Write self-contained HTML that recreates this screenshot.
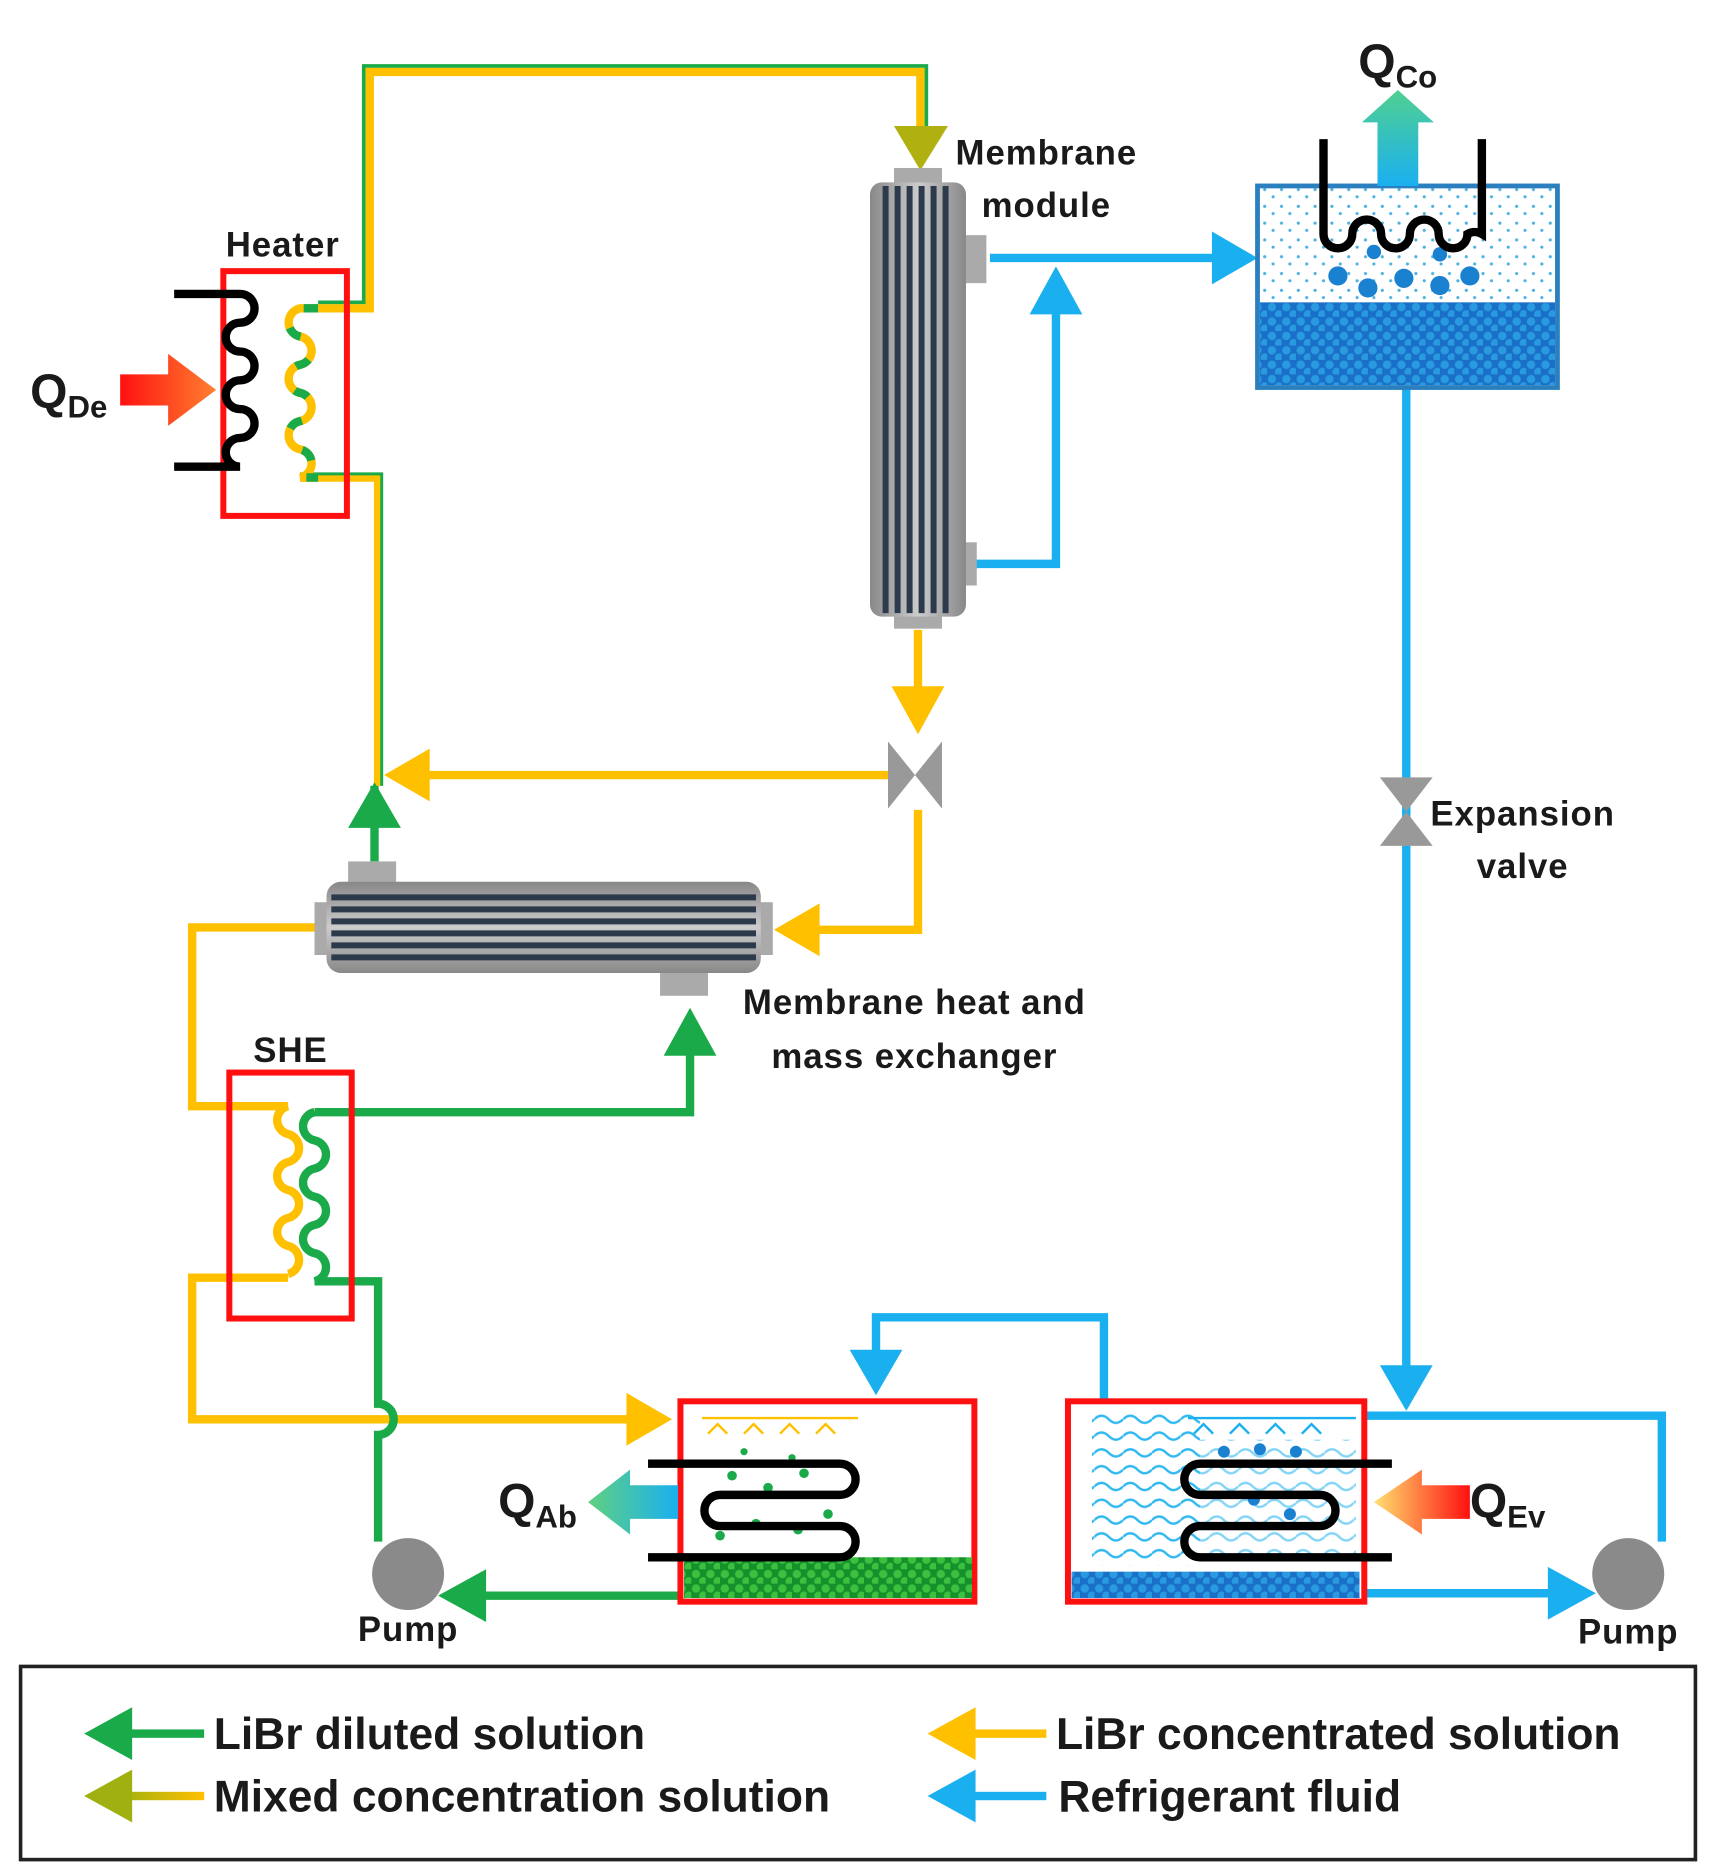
<!DOCTYPE html>
<html><head><meta charset="utf-8"><style>
html,body{margin:0;padding:0;background:#fff}
svg{display:block}
text{font-family:"Liberation Sans","DejaVu Sans",sans-serif;font-weight:bold;fill:#1a1a1a}
.lb{font-size:29px;letter-spacing:0.8px}
.lg{font-size:37px;letter-spacing:0}
</style></head><body>
<svg width="1716" height="1874" viewBox="0 0 1430 1562" xmlns="http://www.w3.org/2000/svg">
<defs>
<linearGradient id="red" x1="0" x2="1"><stop offset="0" stop-color="#ff1010"/><stop offset="1" stop-color="#ff8030"/></linearGradient>
<linearGradient id="co" x1="0" y1="1" x2="0" y2="0"><stop offset="0" stop-color="#1ab0f0"/><stop offset="1" stop-color="#50d090"/></linearGradient>
<linearGradient id="ab" x1="1" x2="0"><stop offset="0" stop-color="#1ab0f0"/><stop offset="1" stop-color="#60d080"/></linearGradient>
<linearGradient id="ev" x1="1" x2="0"><stop offset="0" stop-color="#ff1010"/><stop offset="1" stop-color="#ffe070"/></linearGradient>
<linearGradient id="mix" x1="0" x2="1"><stop offset="0" stop-color="#a0b010"/><stop offset="1" stop-color="#ffc000"/></linearGradient>
<linearGradient id="gray" x1="0" x2="1"><stop offset="0" stop-color="#888"/><stop offset=".5" stop-color="#ccc"/><stop offset="1" stop-color="#888"/></linearGradient>
<linearGradient id="grayv" x1="0" y1="0" x2="0" y2="1"><stop offset="0" stop-color="#888"/><stop offset=".5" stop-color="#ccc"/><stop offset="1" stop-color="#888"/></linearGradient>
<pattern id="dots" width="14" height="14" patternUnits="userSpaceOnUse"><circle cx="4" cy="4" r="1.3" fill="#4ab0e0"/><circle cx="11" cy="10" r="1.3" fill="#4ab0e0"/></pattern>
<pattern id="bub" width="12" height="12" patternUnits="userSpaceOnUse"><rect width="12" height="12" fill="#1a70c8"/><circle cx="4" cy="4" r="3.5" fill="#2a9ae0"/><circle cx="10" cy="10" r="3.5" fill="#2a9ae0"/></pattern>
<pattern id="gbub" width="12" height="12" patternUnits="userSpaceOnUse"><rect width="12" height="12" fill="#15902a"/><circle cx="4" cy="4" r="3.5" fill="#3cc040"/><circle cx="10" cy="10" r="3.5" fill="#3cc040"/></pattern>
<pattern id="wave" width="24" height="14" patternUnits="userSpaceOnUse"><path d="M0,7 q6,-6 12,0 t12,0" fill="none" stroke="#30b8f0" stroke-width="2"/></pattern>
</defs>

<g fill="none" stroke-linejoin="miter">
<polyline points="265,257 308,257 308,60 767,60 767,110" stroke="#ffc000" stroke-width="7"/>
<polyline points="265,252 303,252 303,55 772,55 772,110" stroke="#1aaa4a" stroke-width="3"/>
<polyline points="250,398 315,398 315,655" stroke="#ffc000" stroke-width="7"/>
<polyline points="250,395 318,395 318,655" stroke="#1aaa4a" stroke-width="2.5"/>
<polyline points="765,525 765,585" stroke="#ffc000" stroke-width="7"/>
<line x1="740" y1="646" x2="350" y2="646" stroke="#ffc000" stroke-width="7"/>
<polyline points="765,675 765,775 680,775" stroke="#ffc000" stroke-width="7"/>
<polyline points="265,773 160,773 160,922 240,922" stroke="#ffc000" stroke-width="7"/>
<polyline points="240,1065 160,1065 160,1183 525,1183" stroke="#ffc000" stroke-width="7"/>
<polyline points="262,927 575,927 575,870" stroke="#1aaa4a" stroke-width="7"/>
<path d="M262,1068 H315 V1170 a12,12 0 0 1 0,26 V1285" stroke="#1aaa4a" stroke-width="7"/>
<line x1="312" y1="655" x2="312" y2="718" stroke="#1aaa4a" stroke-width="7"/>
<line x1="565" y1="1330" x2="400" y2="1330" stroke="#1aaa4a" stroke-width="7"/>
<line x1="825" y1="215" x2="1015" y2="215" stroke="#1ab0f0" stroke-width="7"/>
<polyline points="805,470 880,470 880,255" stroke="#1ab0f0" stroke-width="7"/>
<line x1="1172" y1="323" x2="1172" y2="1145" stroke="#1ab0f0" stroke-width="7"/>
<polyline points="920,1168 920,1098 730,1098 730,1130" stroke="#1ab0f0" stroke-width="7"/>
<polyline points="990,1180 1385,1180 1385,1285" stroke="#1ab0f0" stroke-width="7"/>
<line x1="1137" y1="1328" x2="1295" y2="1328" stroke="#1ab0f0" stroke-width="7"/>
</g>

<polygon points="745,105 790,105 767,142" fill="#b0b010"/>
<polygon points="743,572 787,572 765,612" fill="#ffc000"/>
<polygon points="320,646 358,624 358,668" fill="#ffc000"/>
<polygon points="645,775 683,753 683,797" fill="#ffc000"/>
<polygon points="560,1183 522,1161 522,1205" fill="#ffc000"/>
<polygon points="290,690 334,690 312,652" fill="#1aaa4a"/>
<polygon points="553,880 597,880 575,840" fill="#1aaa4a"/>
<polygon points="365,1330 405,1308 405,1352" fill="#1aaa4a"/>
<polygon points="1048,215 1010,193 1010,237" fill="#1ab0f0"/>
<polygon points="858,262 902,262 880,222" fill="#1ab0f0"/>
<polygon points="1150,1138 1194,1138 1172,1176" fill="#1ab0f0"/>
<polygon points="708,1125 752,1125 730,1163" fill="#1ab0f0"/>
<polygon points="1330,1328 1290,1306 1290,1350" fill="#1ab0f0"/>

<polygon points="740,618 740,674 785,618 785,674" fill="#999"/>
<polygon points="1150,648 1194,648 1150,705 1194,705" fill="#999"/>

<rect x="186" y="226" width="103" height="204" fill="none" stroke="#ff1010" stroke-width="5"/>
<path d="M145,245 H200 a12,12 0 0 1 0,24 a12,12 0 0 0 0,24 a12,12 0 0 1 0,24 a12,12 0 0 0 0,24 a12,12 0 0 1 0,24 a12,12 0 0 0 0,24 H145" fill="none" stroke="#000" stroke-width="7"/>
<path d="M265,257 H250 a12,12 0 0 0 0,23.5 a12,12 0 0 1 0,23.5 a12,12 0 0 0 0,23.5 a12,12 0 0 1 0,23.5 a12,12 0 0 0 0,23.5 a12,12 0 0 1 0,23.5 H265" fill="none" stroke="#ffc000" stroke-width="7"/>
<path d="M265,257 H250 a12,12 0 0 0 0,23.5 a12,12 0 0 1 0,23.5 a12,12 0 0 0 0,23.5 a12,12 0 0 1 0,23.5 a12,12 0 0 0 0,23.5 a12,12 0 0 1 0,23.5 H265" fill="none" stroke="#1aaa4a" stroke-width="7" stroke-dasharray="12 24"/>
<polygon points="100,312 140,312 140,295 180,325 140,355 140,338 100,338" fill="url(#red)"/>
<text x="25" y="340" font-size="40">Q<tspan font-size="26" dy="8">De</tspan></text>
<text x="188" y="214" class="lb">Heater</text>

<rect x="745" y="140" width="40" height="16" fill="#aaa"/>
<rect x="745" y="508" width="40" height="16" fill="#aaa"/>
<rect x="800" y="196" width="22" height="40" fill="#aaa"/>
<rect x="800" y="452" width="14" height="36" fill="#aaa"/>
<rect x="725" y="152" width="80" height="362" rx="10" fill="url(#gray)"/>
<g stroke="#2c3a4c" stroke-width="5">
<line x1="738" y1="155" x2="738" y2="511"/><line x1="748" y1="155" x2="748" y2="511"/><line x1="758" y1="155" x2="758" y2="511"/><line x1="768" y1="155" x2="768" y2="511"/><line x1="778" y1="155" x2="778" y2="511"/><line x1="788" y1="155" x2="788" y2="511"/>
</g>
<text x="872" y="137" class="lb" text-anchor="middle">Membrane</text>
<text x="872" y="181" class="lb" text-anchor="middle">module</text>

<rect x="290" y="718" width="40" height="20" fill="#aaa"/>
<rect x="550" y="808" width="40" height="22" fill="#aaa"/>
<rect x="262" y="752" width="16" height="44" fill="#aaa"/>
<rect x="628" y="752" width="16" height="44" fill="#aaa"/>
<rect x="272" y="735" width="362" height="76" rx="12" fill="url(#grayv)"/>
<g stroke="#2c3a4c" stroke-width="5">
<line x1="276" y1="748" x2="630" y2="748"/><line x1="276" y1="758" x2="630" y2="758"/><line x1="276" y1="768" x2="630" y2="768"/><line x1="276" y1="778" x2="630" y2="778"/><line x1="276" y1="788" x2="630" y2="788"/><line x1="276" y1="798" x2="630" y2="798"/>
</g>
<text x="762" y="845" class="lb" text-anchor="middle">Membrane heat and</text>
<text x="762" y="890" class="lb" text-anchor="middle">mass exchanger</text>

<rect x="1048" y="155" width="250" height="168" fill="url(#dots)" stroke="#2a7fbf" stroke-width="4"/>
<rect x="1050" y="252" width="246" height="69" fill="url(#bub)"/>
<g fill="#1a80d0"><circle cx="1115" cy="230" r="8"/><circle cx="1140" cy="240" r="8"/><circle cx="1170" cy="232" r="8"/><circle cx="1200" cy="238" r="8"/><circle cx="1225" cy="230" r="8"/><circle cx="1145" cy="210" r="6"/><circle cx="1200" cy="212" r="6"/></g>
<polygon points="1148,155 1148,102 1135,102 1165,75 1195,102 1182,102 1182,155" fill="url(#co)"/>
<path d="M1103,116 V195 a12,12 0 0 0 24,0 a12,12 0 0 1 24,0 a12,12 0 0 0 24,0 a12,12 0 0 1 24,0 a12,12 0 0 0 24,0 a12,12 0 0 1 12,0 V116" fill="none" stroke="#000" stroke-width="7"/>
<text x="1132" y="65" font-size="40">Q<tspan font-size="26" dy="8">Co</tspan></text>
<text x="1269" y="688" class="lb" text-anchor="middle">Expansion</text>
<text x="1269" y="732" class="lb" text-anchor="middle">valve</text>

<rect x="191" y="894" width="102" height="205" fill="none" stroke="#ff1010" stroke-width="5"/>
<path d="M240,922 a12,12 0 0 0 0,23.3 a12,12 0 0 1 0,23.3 a12,12 0 0 0 0,23.3 a12,12 0 0 1 0,23.3 a12,12 0 0 0 0,23.3 a12,12 0 0 1 0,23.3" fill="none" stroke="#ffc000" stroke-width="7"/>
<path d="M262,927 a12,12 0 0 0 0,23.5 a12,12 0 0 1 0,23.5 a12,12 0 0 0 0,23.5 a12,12 0 0 1 0,23.5 a12,12 0 0 0 0,23.5 a12,12 0 0 1 0,23.5" fill="none" stroke="#1aaa4a" stroke-width="7"/>
<text x="242" y="885" class="lb" text-anchor="middle">SHE</text>

<rect x="567" y="1168" width="245" height="167" fill="#fff" stroke="#ff1010" stroke-width="5"/>
<rect x="570" y="1298" width="240" height="34" fill="url(#gbub)"/>
<g stroke="#ffc000" stroke-width="2" fill="none"><line x1="585" y1="1182" x2="715" y2="1182"/><path d="M590,1195 l8,-8 l8,8 M620,1195 l8,-8 l8,8 M650,1195 l8,-8 l8,8 M680,1195 l8,-8 l8,8"/></g>
<g fill="#1aaa4a"><circle cx="610" cy="1230" r="4"/><circle cx="640" cy="1240" r="4"/><circle cx="670" cy="1228" r="4"/><circle cx="600" cy="1280" r="4"/><circle cx="630" cy="1270" r="4"/><circle cx="665" cy="1275" r="4"/><circle cx="690" cy="1262" r="4"/><circle cx="620" cy="1210" r="3"/><circle cx="660" cy="1215" r="3"/></g>
<path d="M540,1220 H700 a13,13 0 0 1 0,26 H600 a13,13 0 0 0 0,26 H700 a13,13 0 0 1 0,26 H540" fill="none" stroke="#000" stroke-width="7"/>
<polygon points="565,1238 525,1238 525,1225 490,1252 525,1279 525,1266 565,1266" fill="url(#ab)"/>
<text x="415" y="1265" font-size="40">Q<tspan font-size="26" dy="8">Ab</tspan></text>

<rect x="890" y="1168" width="247" height="167" fill="#fff" stroke="#ff1010" stroke-width="5"/>
<rect x="910" y="1175" width="90" height="130" fill="url(#wave)"/>
<rect x="1000" y="1200" width="130" height="95" fill="url(#wave)" opacity=".6"/>
<rect x="893" y="1310" width="240" height="22" fill="url(#bub)"/>
<g stroke="#1ab0f0" stroke-width="2" fill="none"><line x1="990" y1="1182" x2="1130" y2="1182"/><path d="M995,1195 l8,-8 l8,8 M1025,1195 l8,-8 l8,8 M1055,1195 l8,-8 l8,8 M1085,1195 l8,-8 l8,8"/></g>
<g fill="#1a80d0"><circle cx="1020" cy="1210" r="5"/><circle cx="1050" cy="1208" r="5"/><circle cx="1080" cy="1210" r="5"/><circle cx="1045" cy="1250" r="5"/><circle cx="1075" cy="1262" r="5"/></g>
<path d="M1160,1220 H1000 a13,13 0 0 0 0,26 H1100 a13,13 0 0 1 0,26 H1000 a13,13 0 0 0 0,26 H1160" fill="none" stroke="#000" stroke-width="7"/>
<polygon points="1225,1238 1185,1238 1185,1225 1145,1252 1185,1279 1185,1266 1225,1266" fill="url(#ev)"/>
<text x="1225" y="1265" font-size="40">Q<tspan font-size="26" dy="8">Ev</tspan></text>

<circle cx="340" cy="1312" r="30" fill="#8a8a8a"/>
<circle cx="1357" cy="1312" r="30" fill="#8a8a8a"/>
<text x="340" y="1368" class="lb" text-anchor="middle">Pump</text>
<text x="1357" y="1370" class="lb" text-anchor="middle">Pump</text>

<rect x="17" y="1389" width="1396" height="161" fill="none" stroke="#222" stroke-width="3"/>
<rect x="100" y="1441.5" width="70" height="7" fill="#1aaa4a"/>
<polygon points="70,1445 110,1423 110,1467" fill="#1aaa4a"/>
<text x="178" y="1458" class="lg">LiBr diluted solution</text>
<rect x="100" y="1493.5" width="70" height="7" fill="url(#mix)"/>
<polygon points="70,1497 110,1475 110,1519" fill="#a0b010"/>
<text x="178" y="1510" class="lg">Mixed concentration solution</text>
<rect x="805" y="1441.5" width="67" height="7" fill="#ffc000"/>
<polygon points="773,1445 813,1423 813,1467" fill="#ffc000"/>
<text x="880" y="1458" class="lg">LiBr concentrated solution</text>
<rect x="805" y="1493.5" width="67" height="7" fill="#1ab0f0"/>
<polygon points="773,1497 813,1475 813,1519" fill="#1ab0f0"/>
<text x="882" y="1510" class="lg">Refrigerant fluid</text>
</svg>
</body></html>
